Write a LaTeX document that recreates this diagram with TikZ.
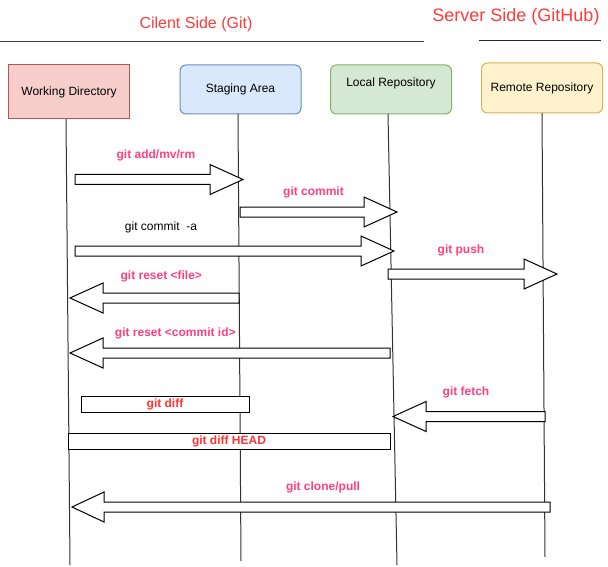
\documentclass[tikz,border=0pt]{standalone}
\usepackage{fontspec}
\setmainfont{Liberation Sans}
\begin{document}
\begin{tikzpicture}[x=1pt,y=-1pt,
  every node/.style={font=\fontsize{12}{14}\selectfont, inner sep=0pt},
  boxsty/.style={draw, line width=1pt, minimum width=121pt},
  lifeline/.style={draw=black!80, line width=1pt},
  blk/.style={draw=black, line width=1pt, fill=white},
  pinklbl/.style={text=gitpink, font=\fontsize{12}{14}\selectfont\bfseries},
  redlbl/.style={text=gitred, font=\fontsize{12}{14}\selectfont\bfseries},
  sidelbl/.style={text=titlered}]
\definecolor{gitpink}{HTML}{FF4080}
\definecolor{gitred}{HTML}{FF3333}
\definecolor{titlered}{HTML}{FF3B3B}
\definecolor{wdfill}{HTML}{F8CECC}\definecolor{wdline}{HTML}{B85450}
\definecolor{safill}{HTML}{DAE8FC}\definecolor{saline}{HTML}{6C8EBF}
\definecolor{lrfill}{HTML}{D5E8D4}\definecolor{lrline}{HTML}{82B366}
\definecolor{rrfill}{HTML}{FFF2CC}\definecolor{rrline}{HTML}{D6B656}
\useasboundingbox[fill=white] (0,0) rectangle (608,567);
\newcommand\RBlk[4]{% tail, headstart, tip, centre y
  \draw[blk] (#1,{#4-5}) -- (#2,{#4-5}) -- (#2,{#4-15}) -- (#3,#4) -- (#2,{#4+15}) -- (#2,{#4+5}) -- (#1,{#4+5}) -- cycle;}
% titles
\node[sidelbl, font=\fontsize{16}{18}\selectfont] (client) at (196,24.5) {Cilent Side (Git)};
\node[sidelbl, font=\fontsize{18}{20}\selectfont] (server) at (516,17) {Server Side (GitHub)};
\coordinate (l1a) at (0,41.7); \coordinate (l1b) at (424,41.7);
\coordinate (l2a) at (478.6,40.3); \coordinate (l2b) at (601,40.3);
\draw[line width=1.3pt, black!75] (l1a) -- (l1b);
\draw[line width=1.3pt, black!85] (l2a) -- (l2b);
% boxes
\node[boxsty, draw=wdline, fill=wdfill, minimum height=54pt] (wd) at (69,92) {Working Directory};
\node[boxsty, draw=saline, fill=safill, minimum height=49pt, rounded corners=6pt] (sa) at (240.5,89.5) {Staging Area};
\node[boxsty, draw=lrline, fill=lrfill, minimum height=49pt, rounded corners=6pt] (lr) at (391,89.5) {};
\node (lrtext) at ([yshift=6.5pt]lr.center) {Local Repository};
\node[boxsty, draw=rrline, fill=rrfill, minimum height=50pt, rounded corners=6pt] (rr) at (542,88) {Remote Repository};
% lifelines
\coordinate (wdT) at (66,119); \coordinate (wdB) at (70,565);
\coordinate (saT) at (238,114); \coordinate (saB) at (241,561);
\coordinate (lrT) at (388,114); \coordinate (lrB) at (397,565);
\coordinate (rrT) at (542,113); \coordinate (rrB) at (545,557);
\draw[lifeline] (wdT) -- (wdB);
\draw[lifeline] (saT) -- (saB);
\draw[lifeline] (lrT) -- (lrB);
\draw[lifeline] (rrT) -- (rrB);
% arrows
\RBlk{75}{210}{243}{179.5}
\node[pinklbl] (add) at (156,155) {git add/mv/rm};
\RBlk{240}{364}{397}{212}
\node[pinklbl] (commit) at (313.5,192.5) {git commit};
\RBlk{75}{361}{394}{251}
\node (commita) at (161,227.5) {git commit\ \ -a};
\RBlk{388}{524}{557}{274}
\node[pinklbl] (push) at (461,250.5) {git push};
\RBlk{239}{103}{70}{298}
\node[pinklbl] (resetf) at (161.3,276.5) {git reset <file>};
\RBlk{390}{103}{70}{353}
\node[pinklbl] (resetc) at (175.3,333.3) {git reset <commit id>};
\node[draw, line width=1pt, fill=white, minimum width=168pt, minimum height=16pt] (diff) at (165,404) {};
\node[redlbl] (difft) at (diff.center) {git diff};
\node[draw, line width=1pt, fill=white, minimum width=322pt, minimum height=16pt] (diffh) at (229,441) {};
\node[redlbl] (diffht) at (diffh.center) {git diff HEAD};
\RBlk{545}{426}{393}{416.5}
\node[pinklbl] (fetch) at (466,392.5) {git fetch};
\RBlk{550}{104}{72}{507}
\node[pinklbl] (clone) at (323,487.5) {git clone/pull};
\end{tikzpicture}
\end{document}
